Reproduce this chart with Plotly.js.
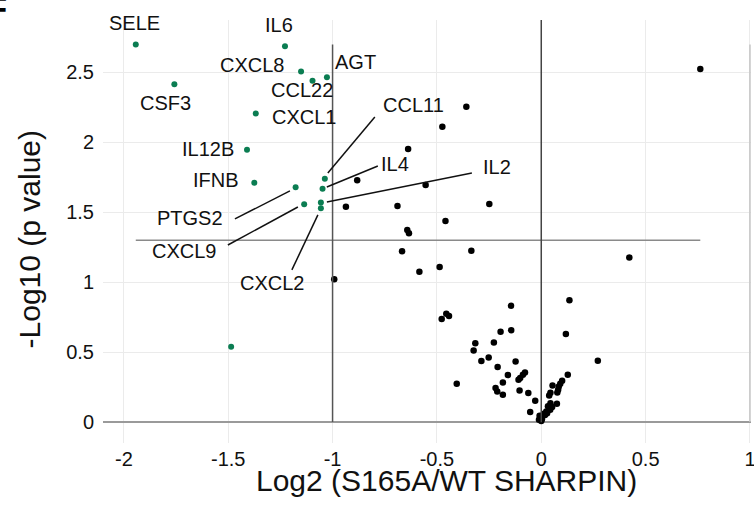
<!DOCTYPE html>
<html>
<head>
<meta charset="utf-8">
<script src="https://cdn.plot.ly/plotly-3.0.1.min.js"></script>
<style>html,body{margin:0;padding:0;background:#fff;}#chart{width:754px;height:505px;}</style>
</head>
<body>
<div id="chart"></div>
<script>
// ---- data ----
const greenGenes = ['SELE','IL6','CXCL8','AGT','CCL22','CSF3','CXCL1','IL12B','IFNB','CCL11','IL4','PTGS2','CXCL9','IL2','CXCL2',''];
const greenX = [-1.943,-1.228,-1.151,-1.027,-1.096,-1.758,-1.368,-1.410,-1.375,-1.037,-1.048,-1.177,-1.136,-1.056,-1.056,-1.486];
const greenY = [2.700,2.688,2.507,2.466,2.440,2.416,2.207,1.947,1.711,1.740,1.669,1.679,1.557,1.569,1.529,0.538];

const blackX = [-0.882,-0.936,-0.359,-0.474,-0.638,-0.554,-0.689,-0.249,-0.459,-0.642,-0.634,0.762,-0.992,-0.667,-0.335,0.422,-0.584,-0.487,0.135,-0.145,
  -0.477,-0.455,-0.442,-0.195,-0.144,0.118,-0.316,-0.227,-0.324,-0.252,-0.287,0.271,-0.209,-0.123,-0.160,-0.078,-0.088,-0.101,-0.109,-0.184,
  -0.405,-0.219,-0.211,-0.184,-0.104,-0.062,-0.029,-0.053,0.127,0.100,0.091,0.084,0.081,0.077,0.054,0.044,0.038,0.075,
  0.044,0.052,0.043,0.032,0.024,0.012,0.005,-0.005,-0.011,0.000,0.018,0.028,-0.008,0.003];
const blackY = [1.729,1.540,2.254,2.111,1.952,1.695,1.545,1.559,1.438,1.374,1.350,2.524,1.021,1.221,1.224,1.176,1.074,1.109,0.871,0.831,
  0.736,0.774,0.759,0.645,0.657,0.629,0.564,0.569,0.512,0.462,0.436,0.438,0.393,0.433,0.336,0.354,0.338,0.314,0.302,0.283,
  0.274,0.243,0.219,0.195,0.226,0.207,0.152,0.071,0.338,0.295,0.274,0.254,0.231,0.211,0.261,0.209,0.190,0.131,
  0.135,0.107,0.088,0.112,0.076,0.059,0.040,0.028,0.016,0.008,0.050,0.062,0.045,0.020];

const xTickVals = [-2,-1.5,-1,-0.5,0,0.5,1];
const xTickText = ['-2','-1.5','-1','-0.5','0','0.5','1'];
const yTickVals = [0,0.5,1,1.5,2,2.5];
const yTickText = ['0','0.5','1','1.5','2','2.5'];

const xTitle = 'Log2 (S165A/WT SHARPIN)';
const yTitle = '-Log10 (p value)';
const panelLetter = 'F';

const pThreshold = 1.3;   // -log10(0.05)
const fcCut = -1;
const fcRight = 1;

// ---- label placement (pixel offsets, style only) ----
const labelShift = {
  SELE:[-1,21], IL6:[-6,21.5], CXCL8:[-49,6], AGT:[29,15], CCL22:[-11,-9.5], CSF3:[-9,-18.5],
  CXCL1:[48,-4], IL12B:[-39,0.7], IFNB:[-38,2.7], CCL11:[89,73.7], IL4:[72,24.2], PTGS2:[-106,-30.7],
  CXCL9:[-120,-46.2], IL2:[176,35.7], CXCL2:[-49,-75.2]
};
// leader lines: [x0,y0,x1,y1] pixel offsets from the point (y up)
const leaders = {
  CCL11:[3,5.7,50,61.7], IL4:[4.3,1.7,55.3,22.7], IL2:[6,0.7,151,29.7],
  PTGS2:[-5.7,-3.7,-60.7,-31.7], CXCL9:[-6.3,-2.7,-76.3,-40.7], CXCL2:[-3,-6.7,-29,-61.7]
};

const FONT = 'Liberation Sans, Arial, Helvetica, sans-serif';
const allX = greenX.concat(blackX), allY = greenY.concat(blackY);
const xMin = Math.min(...allX), xMax = Math.max(...allX), yMax = Math.max(...allY);

const traces = [
  {type:'scatter', mode:'markers', x:blackX, y:blackY, marker:{color:'#000', size:6.5}, hoverinfo:'x+y', showlegend:false},
  {type:'scatter', mode:'markers', x:greenX, y:greenY, text:greenGenes, marker:{color:'#0b7d52', size:6}, hoverinfo:'text+x+y', showlegend:false}
];

const shapes = [
  {type:'line', xref:'x', yref:'y', x0:xMin, x1:xMax, y0:pThreshold, y1:pThreshold, line:{color:'#8a8a8a', width:1.5}},
  {type:'line', xref:'x', yref:'y', x0:fcCut, x1:fcCut, y0:0, y1:yMax, line:{color:'#555', width:1.5}},
  {type:'line', xref:'x', yref:'paper', x0:0, x1:0, y0:0.049, y1:1, line:{color:'#444', width:1.5}},
  {type:'line', xref:'x', yref:'y', x0:fcRight, x1:fcRight, y0:0, y1:yMax, line:{color:'#c4c4c4', width:1.5}}
];
const annotations = [];
greenGenes.forEach((g,i)=>{
  if(!g) return;
  const s = labelShift[g];
  annotations.push({x:greenX[i], y:greenY[i], xref:'x', yref:'y', text:g, showarrow:false,
    xshift:s[0], yshift:s[1], xanchor:'center', yanchor:'middle', font:{family:FONT, size:20, color:'#111'}});
  const L = leaders[g];
  if(L){
    shapes.push({type:'line', xref:'x', yref:'y', xsizemode:'pixel', ysizemode:'pixel',
      xanchor:greenX[i], yanchor:greenY[i], x0:L[0], y0:L[1], x1:L[2], y1:L[3], line:{color:'#111', width:1.5}});
  }
});
// axis titles (placed as in the reference)
annotations.push({xref:'paper', yref:'paper', x:0.530, y:-0.089, xanchor:'center', yanchor:'middle', showarrow:false,
  text:xTitle, font:{family:FONT, size:30, color:'#111'}});
annotations.push({xref:'paper', yref:'paper', x:-0.1134, y:0.480, xanchor:'center', yanchor:'middle', showarrow:false,
  textangle:-90, text:yTitle, font:{family:FONT, size:30, color:'#111'}});
// panel letter (cut off at the top-left corner)
annotations.push({xref:'paper', yref:'paper', x:-0.1826, y:1.076, xanchor:'left', yanchor:'top', showarrow:false,
  text:'<b>'+panelLetter+'</b>', font:{family:FONT, size:33, color:'#000'}});

const layout = {
  width:754, height:505,
  margin:{l:103, r:3, t:20, b:62},
  paper_bgcolor:'#fff', plot_bgcolor:'#fff',
  font:{family:FONT, color:'#111'},
  xaxis:{range:[-2.1,1.005], tickvals:xTickVals, ticktext:xTickText, showgrid:true, gridcolor:'#ebebeb', gridwidth:1,
    zeroline:false, showline:false, ticks:'', tickfont:{size:20, color:'#111'}, ticklabelstandoff:2, ticklabeloverflow:'allow'},
  yaxis:{range:[-0.15,2.875], tickvals:yTickVals, ticktext:yTickText, showgrid:true, gridcolor:'#ebebeb', gridwidth:1,
    zeroline:true, zerolinecolor:'#9a9a9a', zerolinewidth:1.5, showline:false, ticks:'', tickfont:{size:20, color:'#111'}, ticklabelstandoff:8,
    ticklabeloverflow:'allow'},
  shapes:shapes, annotations:annotations, showlegend:false
};
Plotly.newPlot('chart', traces, layout, {displayModeBar:false, staticPlot:true});
</script>
</body>
</html>
